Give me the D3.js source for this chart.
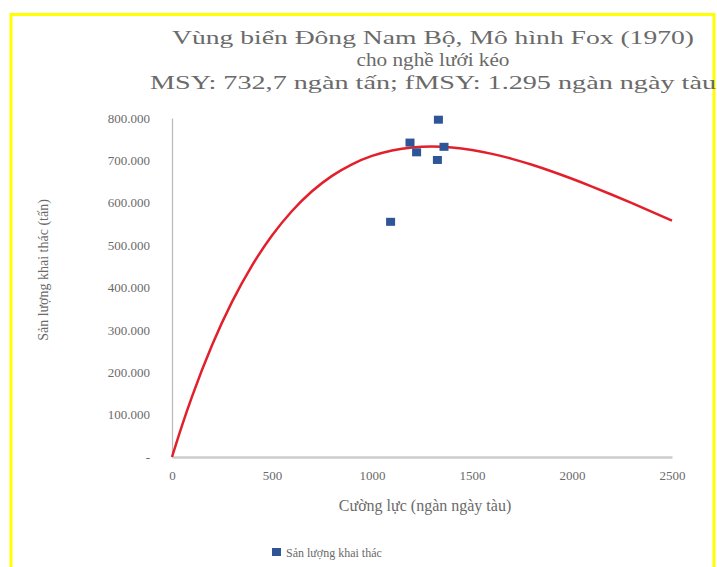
<!DOCTYPE html>
<html>
<head>
<meta charset="utf-8">
<script src="https://cdn.jsdelivr.net/npm/d3@7"></script>
<style>
  html, body { margin: 0; padding: 0; background: #ffffff; }
  svg { display: block; }
  text { font-family: "Liberation Serif", "Times New Roman", serif; fill: #6a6a6a; }
</style>
</head>
<body>
<svg id="chart" width="717" height="567"></svg>
<script>
// Observed catch vs. fishing effort (ngàn ngày tàu, tấn)
const effortObs = [1093, 1190, 1223, 1327, 1332, 1360];
const catchObs  = [555000, 742000, 719000, 701000, 796000, 732000];

// Fox (1970) production curve, sampled along effort
const effortCurve = [0, 50, 100, 200, 300, 400, 500, 600, 700, 800, 900, 1000, 1100, 1200, 1300,
                     1400, 1500, 1600, 1700, 1800, 1900, 2000, 2100, 2200, 2300, 2400, 2500];
const catchCurve  = [0, 74000, 142400, 263600, 366000, 451700, 522700, 580600, 627100, 663400, 690800,
                     710500, 723500, 730600, 732700, 730400, 724400, 715300, 703600, 689600, 673800,
                     656600, 638200, 618900, 598900, 578500, 557900];

const xTicks = [0, 500, 1000, 1500, 2000, 2500];
const yTicks = [0, 100000, 200000, 300000, 400000, 500000, 600000, 700000, 800000];

const titleLines = [
  "Vùng biển Đông Nam Bộ, Mô hình Fox (1970)",
  "cho nghề lưới kéo",
  "MSY:  732,7 ngàn tấn; fMSY: 1.295 ngàn ngày tàu"
];
const xTitle = "Cường lực (ngàn ngày tàu)";
const yTitle = "Sản lượng khai thác (tấn)";
const seriesName = "Sản lượng khai thác";

const svg = d3.select("#chart");

// frame
svg.append("rect")
  .attr("x", 11).attr("y", 14.5).attr("width", 703).attr("height", 600)
  .attr("fill", "#ffffff").attr("stroke", "#ffff00").attr("stroke-width", 3);

const x = d3.scaleLinear().domain([0, 2500]).range([172, 672]);
const y = d3.scaleLinear().domain([0, 800000]).range([457, 118]);

// title
const titleW = [522, 153, 566];
const titleY = [44, 66, 89];
titleLines.forEach((t, i) => {
  svg.append("text")
    .attr("x", 433).attr("y", titleY[i])
    .attr("text-anchor", "middle")
    .attr("font-size", 18.5)
    .attr("textLength", titleW[i]).attr("lengthAdjust", "spacingAndGlyphs")
    .attr("fill", "#626262")
    .text(t);
});

// format 800000 -> "800.000", 0 -> "-"
const fmtY = v => v === 0 ? "-" : d3.format(",")(v).replace(/,/g, ".");

// y axis
const yAxis = d3.axisLeft(y).tickValues(yTicks).tickSize(0).tickPadding(22).tickFormat(fmtY);
const gy = svg.append("g").attr("transform", `translate(${x(0)},0)`).call(yAxis);
gy.select(".domain").attr("stroke", "#b8b8b8").attr("stroke-width", 1.2);
gy.selectAll("text")
  .style("font-family", "'Liberation Serif', serif")
  .attr("font-size", 13).attr("fill", "#707070");

// x axis
const xAxis = d3.axisBottom(x).tickValues(xTicks).tickSize(0).tickPadding(14).tickFormat(d3.format("d"));
const gx = svg.append("g").attr("transform", `translate(0,${y(0)})`).call(xAxis);
gx.select(".domain").attr("stroke", "#cccccc").attr("stroke-width", 2.5);
gx.selectAll("text")
  .style("font-family", "'Liberation Serif', serif")
  .attr("font-size", 13).attr("fill", "#707070");

// axis titles
svg.append("text")
  .attr("x", 425).attr("y", 511)
  .attr("text-anchor", "middle").attr("font-size", 16)
  .text(xTitle);

svg.append("text")
  .attr("transform", "translate(48,270) rotate(-90)")
  .attr("text-anchor", "middle").attr("font-size", 14)
  .text(yTitle);

// model curve
const line = d3.line()
  .x((d, i) => x(effortCurve[i]))
  .y(d => y(d))
  .curve(d3.curveMonotoneX);
svg.append("path")
  .datum(catchCurve)
  .attr("d", line)
  .attr("fill", "none")
  .attr("stroke", "#e2202c")
  .attr("stroke-width", 2.5);

// observed points
const sq = 9;
svg.append("g").selectAll("rect")
  .data(effortObs)
  .join("rect")
  .attr("x", (d) => x(d) - sq / 2)
  .attr("y", (d, i) => y(catchObs[i]) - sq / 2 + 0.5)
  .attr("width", sq).attr("height", sq - 1)
  .attr("fill", "#2f5597");

// legend
const lg = svg.append("g");
lg.append("rect").attr("x", 272).attr("y", 548).attr("width", 9).attr("height", 8).attr("fill", "#2f5597");
lg.append("text").attr("x", 286).attr("y", 557).attr("font-size", 12).text(seriesName);
</script>
</body>
</html>
